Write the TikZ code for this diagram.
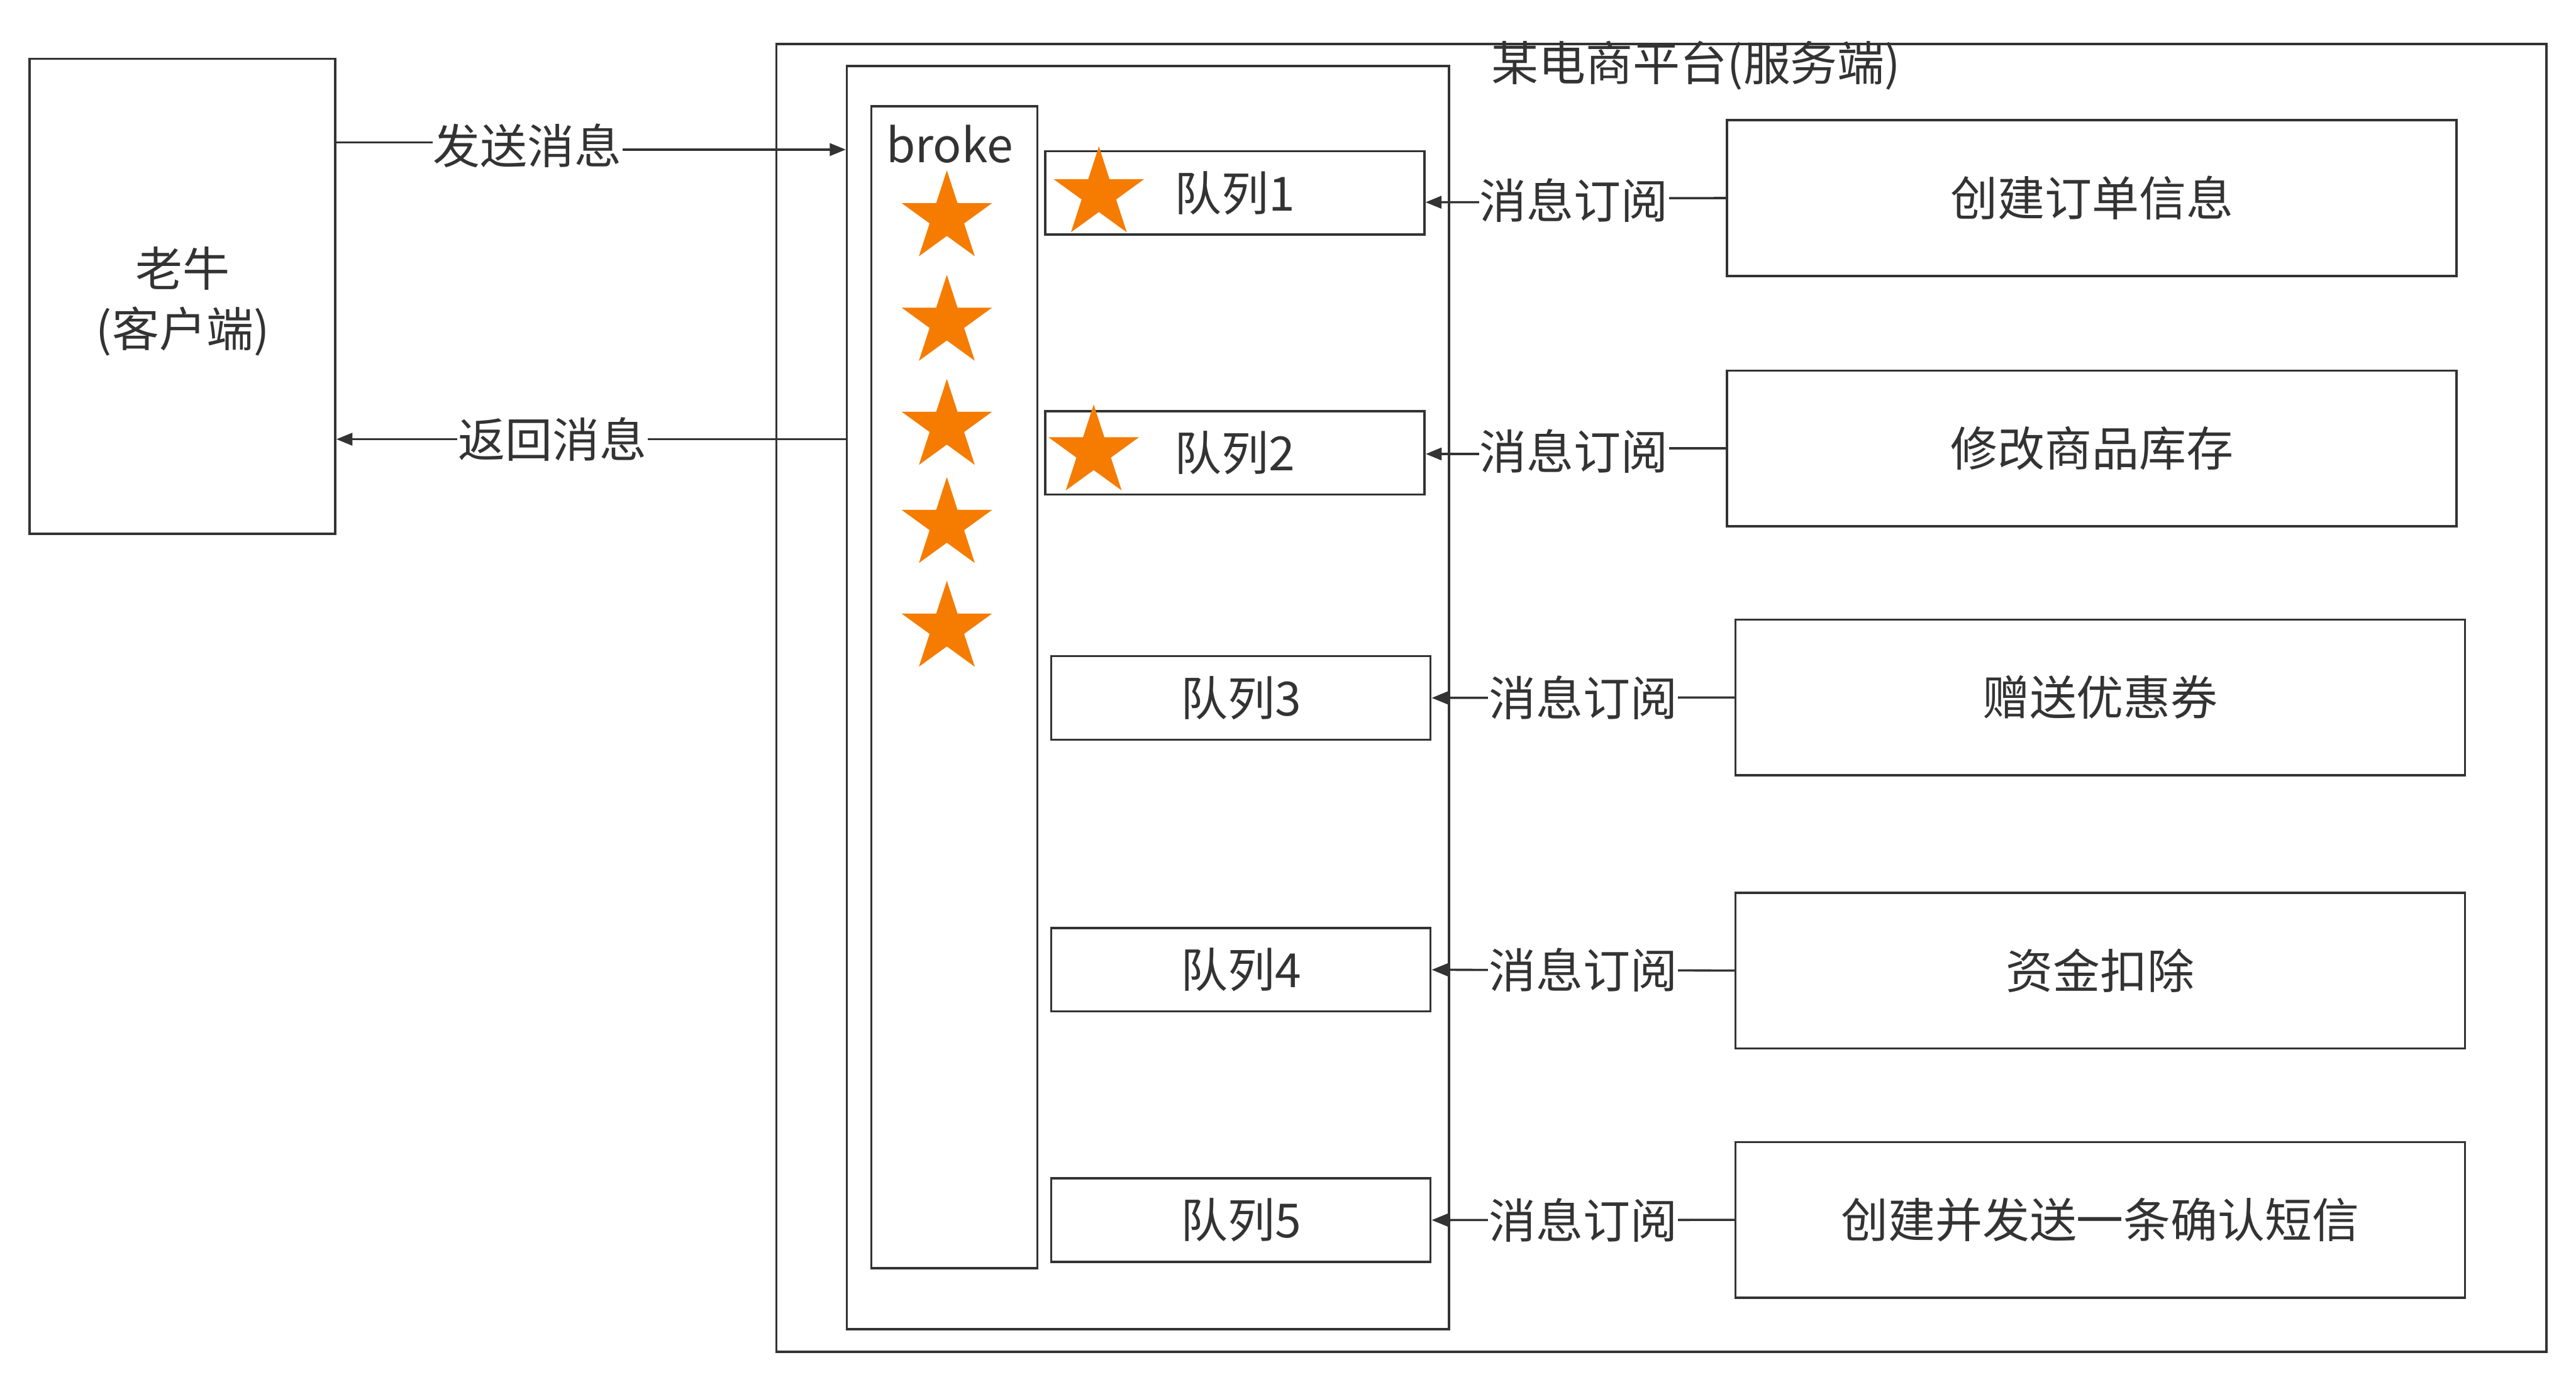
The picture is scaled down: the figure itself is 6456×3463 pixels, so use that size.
\documentclass[tikz,border=0pt]{standalone}
\usepackage{fontspec}
\setmainfont{Noto Sans CJK SC}
\usetikzlibrary{arrows.meta, positioning, shapes.geometric}
\definecolor{linegray}{RGB}{51,51,51}
\definecolor{starorange}{RGB}{245,124,0}

\begin{document}
\begin{tikzpicture}[
	x=0.01cm, y=-0.01cm,
	every node/.style={font=\fontsize{33.6pt}{43pt}\selectfont, text=linegray},
	box/.style={rectangle, draw=linegray, line width=1.6pt, fill=white, inner sep=0pt},
	qbox/.style={box, minimum width=9.5cm, minimum height=2.09cm},
	sbox/.style={box, minimum width=18.27cm, minimum height=3.9cm},
	msgstar/.style={star, star points=5, star point ratio=2.618, fill=starorange, draw=none, minimum size=2.38cm, inner sep=0pt},
	lbl/.style={fill=white, inner sep=0.02cm},
	arrow/.style={-{Triangle[length=0.4cm, width=0.31cm]}, line width=1.6pt, draw=linegray}
]
	\useasboundingbox (0,0) rectangle (6456,3463);

	% 客户端
	\node[box, minimum width=7.66cm, minimum height=11.9cm] (client) at (457,743) {};
	\node[align=center] (clienttxt) at (458,755) {老牛\\(客户端)};

	% 服务端
	\node[box, minimum width=44.34cm, minimum height=32.77cm] (platform) at (4164,1749.5) {};
	\node (ptitle) at (4251,165) {某电商平台(服务端)};
	\node[box, minimum width=15.08cm, minimum height=31.65cm] (mq) at (2877,1748.5) {};
	\node[box, minimum width=4.16cm, minimum height=29.11cm] (broker) at (2392,1722.5) {};
	\node[anchor=base] (brokertxt) at (2380,407) {broke};

	\node[qbox] (q1) at (3094.5,483.5) {队列1};
	\node[qbox] (q2) at (3095,1135) {队列2};
	\node[qbox] (q3) at (3110,1749.5) {队列3};
	\node[qbox] (q4) at (3110,2431) {队列4};
	\node[qbox] (q5) at (3110,3058.5) {队列5};

	\foreach \y [count=\i] in {546,808,1069,1315,1575}
		\node[msgstar] (bs\i) at (2373,\y) {};
	\node[msgstar] (qs1) at (2754,486) {};
	\node[msgstar] (qs2) at (2741,1133) {};

	% 订阅方
	\node[sbox] (order) at (5242.5,496.5) {创建订单信息};
	\node[sbox] (stock) at (5242.5,1124) {修改商品库存};
	\node[sbox] (coupon) at (5263.5,1748.5) {赠送优惠券};
	\node[sbox] (fund) at (5263.5,2433) {资金扣除};
	\node[sbox] (sms) at (5263.5,3058) {创建并发送一条确认短信};

	\draw[arrow] (client.east |- 0,357) -- (1322,357) -- node[lbl] {发送消息} (1322,375) -- (mq.west |- 0,375);
	\draw[arrow] (mq.west |- 0,1101) -- node[lbl, pos=0.576] {返回消息} (client.east |- 0,1101);

	\draw[arrow] (order.west) -- (3945,497) -- node[lbl] {消息订阅} (3945,507) -- (q1.east |- 0,507);
	\draw[arrow] (stock.west) -- (3945,1124) -- node[lbl] {消息订阅} (3945,1138) -- (q2.east |- 0,1138);
	\draw[arrow] (coupon.west) -- node[lbl] {消息订阅} (q3.east);
	\draw[arrow] (fund.west) -- node[lbl] {消息订阅} (q4.east);
	\draw[arrow] (sms.west) -- node[lbl] {消息订阅} (q5.east);
\end{tikzpicture}
\end{document}
